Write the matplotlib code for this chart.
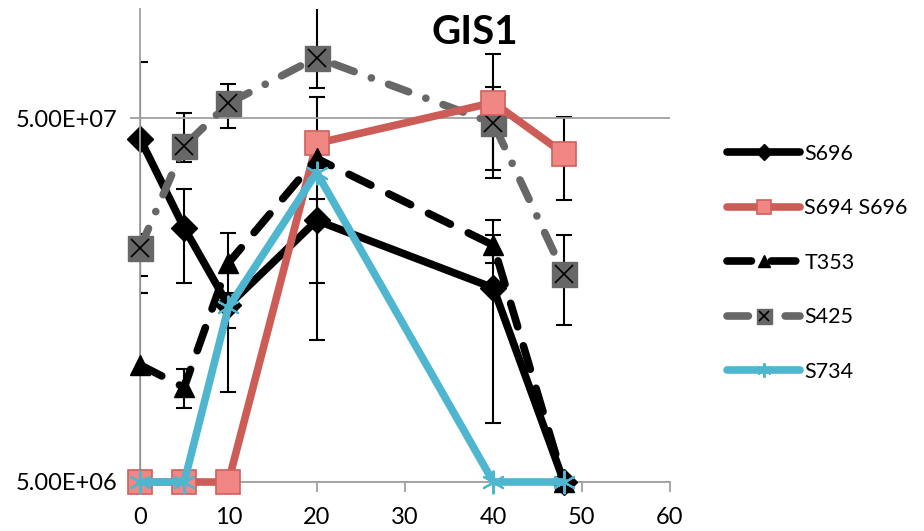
import numpy as np
import matplotlib.pyplot as plt
from matplotlib.legend_handler import HandlerTuple

plt.rcParams['font.family'] = ['Lato', 'DejaVu Sans']

# time points (x axis)
x = [0, 5, 10, 20, 40, 48]

# series values (log scale)
s696 = [4.4e7, 2.5e7, 1.53e7, 2.62e7, 1.71e7, 5.0e6]
s694_s696 = [5.0e6, 5.0e6, 5.0e6, 4.27e7, 5.53e7, 4.0e7]
t353 = [1.05e7, 9.1e6, 2.0e7, 3.88e7, 2.24e7, 5.0e6]
s425 = [2.2e7, 4.2e7, 5.5e7, 7.35e7, 4.85e7, 1.87e7]
s734 = [5.0e6, 5.0e6, 1.51e7, 3.55e7, 5.0e6, 5.0e6]

# error bar bounds (low, high); nan = no bar
s696_lo = [1.84e7, 1.76e7, 8.83e6, 1.23e7, 7.27e6, np.nan]
s696_hi = [7.17e7, 3.19e7, 1.66e7, 3.0e7, 2.39e7, np.nan]
s694_lo = [np.nan, np.nan, np.nan, 1.76e7, 3.6e7, 2.99e7]
s694_hi = [np.nan, np.nan, np.nan, 5.71e7, 7.5e7, 5.03e7]
t353_lo = [3.0e6, 7.98e6, 1.33e7, 3.4e7, 2.0e7, np.nan]
t353_hi = [1.66e7, 1.02e7, 2.42e7, 4.3e7, 2.62e7, np.nan]
s425_lo = [1.66e7, 3.8e7, 4.72e7, 6.08e7, 3.42e7, 1.35e7]
s425_hi = [2.4e7, 5.19e7, 6.2e7, 1.3e8, 6.12e7, 2.39e7]

yticks = [5e6, 5e7]
ytick_labels = ['5.00E+06', '5.00E+07']
xticks = [0, 10, 20, 30, 40, 50, 60]

fig = plt.figure(figsize=(9.24, 5.31), dpi=100)
ax = fig.add_axes([140 / 924, 1 - 482 / 531, 530 / 924, 473 / 531])


def errbars(vals, lo, hi):
    xv = np.array(x, dtype=float)
    v = np.array(vals)
    lo = np.array(lo)
    hi = np.array(hi)
    m = ~np.isnan(lo)
    ax.errorbar(xv[m], v[m], yerr=[v[m] - lo[m], hi[m] - v[m]], fmt='none',
                ecolor='black', elinewidth=1.5, capsize=5.5, capthick=1.5,
                zorder=1)


errbars(s696, s696_lo, s696_hi)
errbars(s694_s696, s694_lo, s694_hi)
errbars(t353, t353_lo, t353_hi)
errbars(s425, s425_lo, s425_hi)

red = '#CD5C57'
grey = '#676767'
cyan = '#4FB6CF'

l1, = ax.plot(x, s696, color='black', lw=5.5, marker='D', ms=13,
              solid_capstyle='round', zorder=2, label='S696', clip_on=False)
l3, = ax.plot(x, t353, color='black', lw=5.5, marker='^', ms=15,
              dashes=(3.2, 2.6), dash_capstyle='round', zorder=5,
              label='T353', clip_on=False)
l4, = ax.plot(x, s425, color=grey, lw=5.5, marker='s', ms=18, mfc=grey,
              mec=grey, dashes=(2.8, 2.4, 0.01, 2.4), dash_capstyle='round',
              zorder=3, label='S425', clip_on=False)
l4x, = ax.plot(x, s425, ls='none', marker='x', ms=13, mec='black', mew=1.2,
               zorder=3.1, clip_on=False)
l2, = ax.plot(x, s694_s696, color=red, lw=5.5, marker='s', ms=17,
              mfc='#F08784', mec='#D0605A', mew=1.2, solid_capstyle='round',
              zorder=4, label='S694 S696', clip_on=False)
l5, = ax.plot(x, s734, color=cyan, lw=5.5, marker=(6, 2, 0), ms=17,
              mec=cyan, mew=1.5, solid_capstyle='round', zorder=6,
              label='S734', clip_on=False)

ax.set_yscale('log')
ax.set_ylim(5e6, 1e8)
ax.set_xlim(0, 60)
ax.set_yticks(yticks)
ax.set_yticklabels(ytick_labels)
ax.minorticks_off()
ax.set_xticks(xticks)
ax.tick_params(axis='both', labelsize=17, color='#A0A0A0', length=7,
               width=1.3)
ax.tick_params(axis='x', pad=11)
ax.tick_params(axis='y', pad=9)
ax.yaxis.grid(True, color='#A0A0A0', lw=1.3)
for s in ['top', 'right']:
    ax.spines[s].set_visible(False)
for s in ['left', 'bottom']:
    ax.spines[s].set_color('#A0A0A0')
    ax.spines[s].set_linewidth(1.3)
ax.spines['bottom'].set_zorder(0.5)

ax.text(475 / 924, 1 - 33 / 531, 'GIS1', transform=fig.transFigure,
        ha='center', va='center', fontsize=29, fontweight='bold')

fig.legend([l1, l2, l3, (l4, l4x), l5],
           ['S696', 'S694 S696', 'T353', 'S425', 'S734'],
           handler_map={tuple: HandlerTuple(ndivide=1)},
           loc='upper left', bbox_to_anchor=(727 / 924, 1 - 144 / 531),
           frameon=False, fontsize=15.5, handlelength=3.4, handletextpad=0.2,
           labelspacing=1.6, markerscale=0.6, borderpad=0, borderaxespad=0)

fig.savefig('out.png', dpi=100)
